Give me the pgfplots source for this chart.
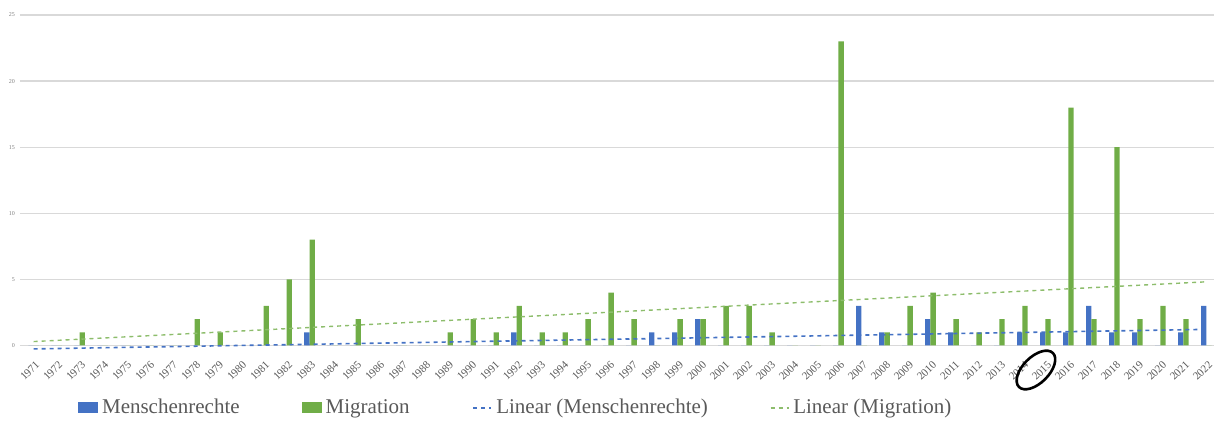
\documentclass[border=0pt]{standalone}
\usepackage{pgfplots}
\pgfplotsset{compat=1.18}
\usepackage{fontspec}
\setmainfont{Liberation Serif}
\definecolor{mblue}{HTML}{4472C4}
\definecolor{mgreen}{HTML}{70AD47}
\definecolor{gridgray}{HTML}{D9D9D9}
\definecolor{txtgray}{HTML}{595959}
\begin{document}
\begin{tikzpicture}
\begin{axis}[
  scale only axis,
  width=597pt, height=165.25pt,
  at={(0,0)}, anchor=south west,
  xmin=1970.41, xmax=2022.33,
  ymin=0, ymax=25,
  ytick={0,5,10,15,20,25},
  xtick={1971,...,2022},
  ybar=0pt, bar width=2.65pt,
  clip=false,
  axis line style={draw=none},
  major tick length=0pt,
  ymajorgrids, grid style={gridgray, line width=0.6pt},
  /pgf/number format/assume math mode=true,
  /pgf/number format/1000 sep={},
  yticklabel style={font=\fontsize{3}{3.5}\selectfont, text=gray, xshift=1pt},
  xticklabel style={font=\fontsize{5.5}{6.5}\selectfont, text=txtgray, rotate=45, anchor=north east, inner sep=0.5pt, xshift=-4pt, yshift=-5pt},
  legend style={draw=none, fill=none, legend columns=4, at={(0.416,-0.189)}, anchor=center,
    font=\fontsize{10.5}{12}\selectfont, text=txtgray,
    /tikz/every even column/.append style={column sep=9pt}},
  legend cell align=left,
]
\addplot[draw=none, fill=mblue,
  legend image code/.code={\fill[mblue] (0pt,-2.75pt) rectangle (10pt,2.75pt);}]
coordinates {
(1971,0)(1972,0)(1973,0)(1974,0)(1975,0)(1976,0)(1977,0)(1978,0)(1979,0)(1980,0)
(1981,0)(1982,0)(1983,1)(1984,0)(1985,0)(1986,0)(1987,0)(1988,0)(1989,0)(1990,0)
(1991,0)(1992,1)(1993,0)(1994,0)(1995,0)(1996,0)(1997,0)(1998,1)(1999,1)(2000,2)
(2001,0)(2002,0)(2003,0)(2004,0)(2005,0)(2006,0)(2007,3)(2008,1)(2009,0)(2010,2)
(2011,1)(2012,0)(2013,0)(2014,1)(2015,1)(2016,1)(2017,3)(2018,1)(2019,1)(2020,0)
(2021,1)(2022,3)};
\addlegendentry{Menschenrechte\rule{20pt}{0pt}}
\addplot[draw=none, fill=mgreen,
  legend image code/.code={\fill[mgreen] (0pt,-2.75pt) rectangle (10pt,2.75pt);}]
coordinates {
(1971,0)(1972,0)(1973,1)(1974,0)(1975,0)(1976,0)(1977,0)(1978,2)(1979,1)(1980,0)
(1981,3)(1982,5)(1983,8)(1984,0)(1985,2)(1986,0)(1987,0)(1988,0)(1989,1)(1990,2)
(1991,1)(1992,3)(1993,1)(1994,1)(1995,2)(1996,4)(1997,2)(1998,0)(1999,2)(2000,2)
(2001,3)(2002,3)(2003,1)(2004,0)(2005,0)(2006,23)(2007,0)(2008,1)(2009,3)(2010,4)
(2011,2)(2012,1)(2013,2)(2014,3)(2015,2)(2016,18)(2017,2)(2018,15)(2019,2)(2020,3)
(2021,2)(2022,0)};
\addlegendentry{Migration\rule{20.5pt}{0pt}}
\addplot[sharp plot, mblue, line width=0.8pt, dash pattern=on 2pt off 2pt,
  legend image code/.code={\draw[mblue, line width=0.8pt, dash pattern=on 2pt off 2pt] (0pt,0pt) -- (9pt,0pt);}]
coordinates {(1971,-0.258) (2022,1.220)};
\addlegendentry{Linear (Menschenrechte)\rule{20pt}{0pt}}
\addplot[sharp plot, mgreen!80, line width=0.7pt, dash pattern=on 2pt off 2pt,
  legend image code/.code={\draw[mgreen!80, line width=0.7pt, dash pattern=on 2pt off 2pt] (0pt,0pt) -- (9pt,0pt);}]
coordinates {(1971,0.297) (2022,4.818)};
\addlegendentry{Linear (Migration)}
\path (axis cs:2015,0) ++(-4.75pt,-12.25pt) coordinate (E);
\draw[line width=1.3pt, rotate around={45:(E)}] (E) ellipse (12pt and 6.5pt);
\end{axis}
\pgfresetboundingbox
\useasboundingbox (-10pt,-37.75pt) rectangle (597pt,172.75pt);
\end{tikzpicture}
\end{document}
